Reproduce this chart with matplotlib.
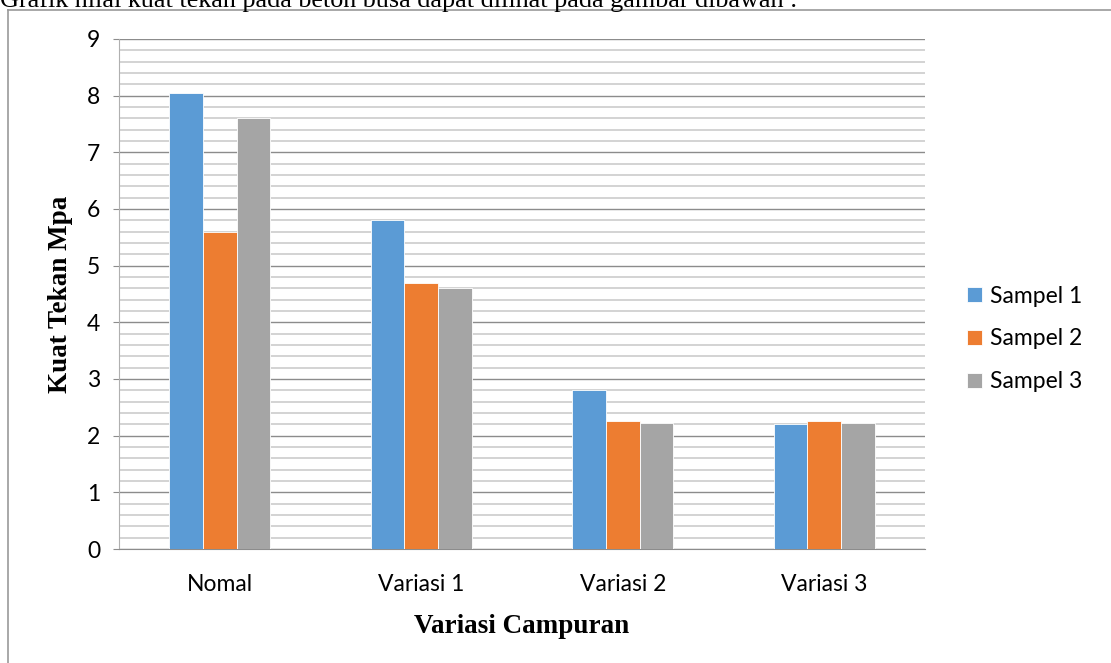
import numpy as np
import matplotlib.pyplot as plt
from matplotlib.lines import Line2D

# kuat tekan beton busa per variasi campuran
kategori = ['Nomal', 'Variasi 1', 'Variasi 2', 'Variasi 3']
sampel_1 = [8.05, 5.8, 2.8, 2.2]
sampel_2 = [5.6, 4.7, 2.26, 2.26]
sampel_3 = [7.6, 4.6, 2.22, 2.22]
nama_seri = ['Sampel 1', 'Sampel 2', 'Sampel 3']
warna = ['#5b9bd5', '#ed7d31', '#a5a5a5']

fig = plt.figure(figsize=(11.11, 6.63), dpi=100)
ax = fig.add_axes([119/1111, 1 - 549/663, (925 - 119)/1111, (549 - 39)/663])

x = np.arange(len(kategori))
w = 1/6
for i, (vals, nm) in enumerate(zip([sampel_1, sampel_2, sampel_3], nama_seri)):
    ax.bar(x + (i - 1)*w, vals, width=w, color=warna[i], label=nm,
           edgecolor='white', linewidth=0.6, zorder=3)

ax.set_xlim(-0.5, len(kategori) - 0.5)
ax.set_ylim(0, 9)
ax.set_yticks(np.arange(0, 10, 1))
ax.set_yticks(np.arange(0, 9.01, 0.2), minor=True)
ax.grid(which='major', axis='y', color='#8c8c8c', linewidth=1.0, zorder=1)
ax.grid(which='minor', axis='y', color='#d0d0d0', linewidth=1.3, zorder=0)

ax.set_xticks(x)
ax.set_xticklabels(kategori, family='Lato', fontsize=16.5)
ax.tick_params(axis='x', length=0, pad=18)
ax.tick_params(axis='y', which='major', length=4.5, color='#8c8c8c', pad=9,
               labelsize=16.5)
ax.tick_params(axis='y', which='minor', length=0)
for lbl in ax.get_yticklabels():
    lbl.set_family('Lato')

for s in ['top', 'right']:
    ax.spines[s].set_visible(False)
ax.spines['left'].set_color('#b0b0b0')
ax.spines['bottom'].set_color('#8c8c8c')

ax.set_xlabel('Variasi Campuran', family='Liberation Serif', fontweight='bold',
              fontsize=19.5, labelpad=14)
ax.set_ylabel('Kuat Tekan Mpa', family='Liberation Serif', fontweight='bold',
              fontsize=19.5, labelpad=10)

leg = ax.legend(loc='center left', bbox_to_anchor=(946/1111, 1 - 339/663),
                bbox_transform=fig.transFigure, frameon=False,
                prop={'family': 'Lato', 'size': 16.5}, handlelength=0.65,
                handleheight=0.65, handletextpad=0.35, labelspacing=0.95)

# bingkai grafik dan kalimat pengantar di atasnya
fig.add_artist(Line2D([8/1111, 8/1111], [0, 1 - 10/663], transform=fig.transFigure,
                      color='#9a9a9a', linewidth=1.2))
fig.add_artist(Line2D([8/1111, 1], [1 - 10/663, 1 - 10/663], transform=fig.transFigure,
                      color='#9a9a9a', linewidth=1.2))
fig.text(0.0, 1 - 7/663, 'Grafik nilai kuat tekan pada beton busa dapat dilihat pada gambar dibawah :',
         family='Liberation Serif', fontsize=18.8, va='baseline', ha='left')

fig.savefig('out.png', dpi=100)
